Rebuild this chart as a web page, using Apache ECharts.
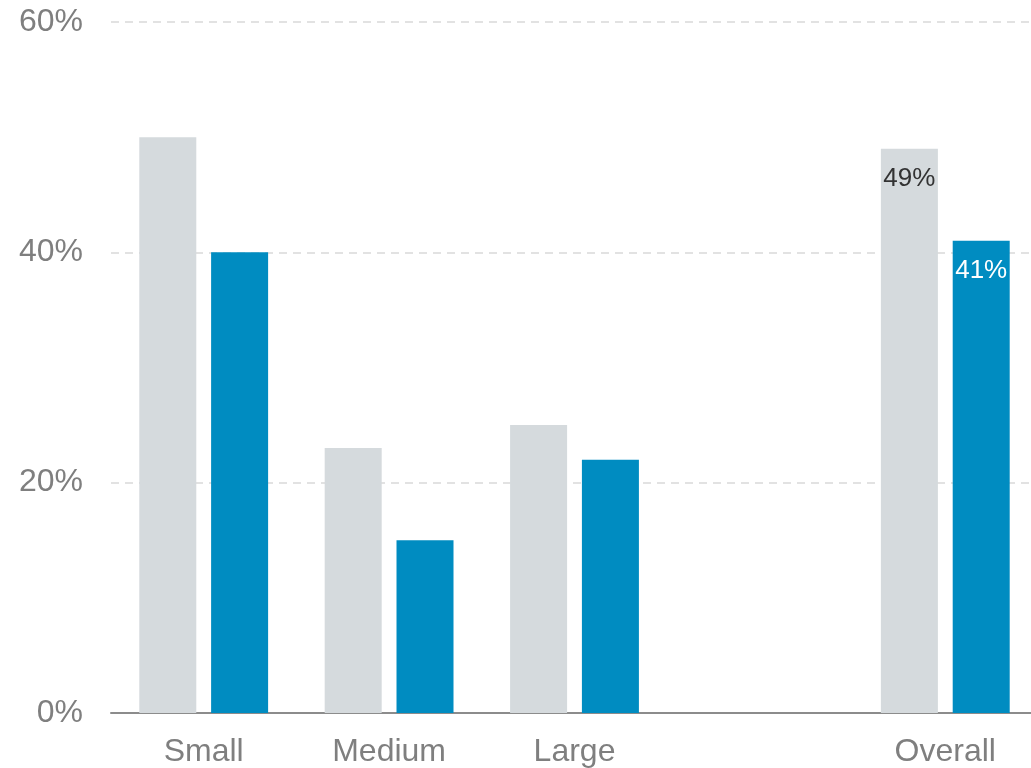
<!DOCTYPE html>
<html><head><meta charset="utf-8">
<script src="https://cdn.jsdelivr.net/npm/echarts@6/dist/echarts.min.js"></script>
<style>html,body{margin:0;padding:0;background:#fff;overflow:hidden}#c{width:1038px;height:768px}</style>
</head><body><div id="c"></div>
<script>
const categories = ['Small', 'Medium', 'Large', '', 'Overall'];
const seriesGrey = [50, 23, 25, null, 49];
const seriesBlue = [40, 15, 22, null, 41];
const labelIndex = 4;
const yTicks = [0, 20, 40, 60];

const chart = echarts.init(document.getElementById('c'), null, {renderer: 'canvas'});
function mk(vals, color, labelColor) {
  return {
    type: 'bar',
    barWidth: 57,
    barGap: '26%',
    itemStyle: {color: color},
    data: vals.map((v, i) => ({
      value: v,
      label: {
        show: i === labelIndex,
        position: 'insideTop',
        distance: 17,
        formatter: '{c}%',
        color: labelColor,
        fontSize: 26,
        fontFamily: 'Liberation Sans, Arial, sans-serif'
      }
    }))
  };
}
chart.setOption({
  animation: false,
  grid: {left: 111, right: 0, top: 22, bottom: 55, containLabel: false},
  xAxis: {
    type: 'category',
    data: categories,
    axisLine: {lineStyle: {color: '#8c8c8c', width: 2}},
    axisTick: {show: false},
    axisLabel: {color: '#7f7f7f', fontSize: 32, margin: 23, fontFamily: 'Liberation Sans, Arial, sans-serif'}
  },
  yAxis: {
    type: 'value',
    min: 0, max: 60, interval: 20,
    axisLine: {show: false},
    axisTick: {show: false},
    splitLine: {lineStyle: {color: '#d9d9d9', type: [8, 6], width: 1.5}},
    axisLabel: {color: '#7f7f7f', fontSize: 32, margin: 28, formatter: '{value}%', fontFamily: 'Liberation Sans, Arial, sans-serif'}
  },
  series: [mk(seriesGrey, '#d5dadd', '#333333'), mk(seriesBlue, '#008cc1', '#ffffff')]
});
</script></body></html>
